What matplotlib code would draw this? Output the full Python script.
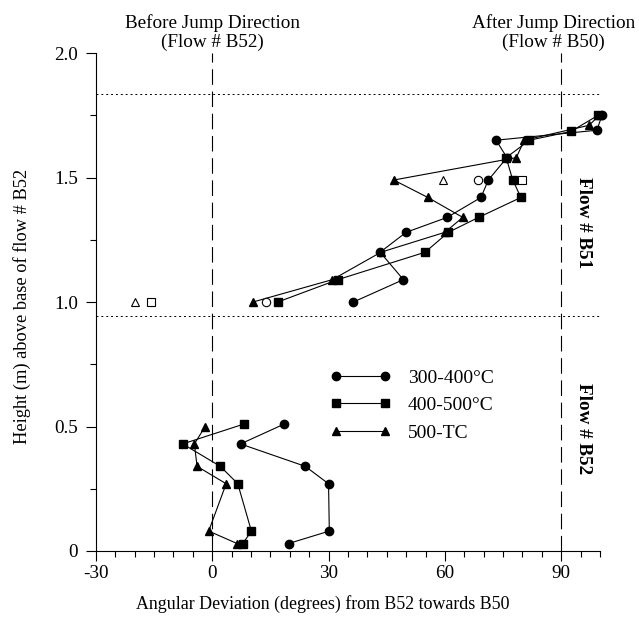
import numpy as np
import matplotlib
matplotlib.use('Agg')
import matplotlib.pyplot as plt
from matplotlib.ticker import MultipleLocator

plt.rcParams['font.family'] = ['Liberation Serif', 'DejaVu Serif']

# upper flow (B51), heights in m, angles in degrees
circ_up_x = [36.4, 49.3, 43.3, 50.0, 60.6, 69.3, 71.2, 76.0, 73.2, 99.2, 100.5]
circ_up_y = [1.00, 1.09, 1.20, 1.28, 1.34, 1.42, 1.49, 1.58, 1.65, 1.69, 1.75]
sq_up_x = [16.9, 32.4, 54.9, 60.9, 68.7, 79.6, 77.5, 75.8, 81.8, 92.5, 99.5]
sq_up_y = [1.00, 1.09, 1.20, 1.28, 1.34, 1.42, 1.49, 1.58, 1.65, 1.685, 1.75]
tri_up_x = [10.5, 31.0, 43.5, 60.0, 64.6, 55.6, 46.8, 78.4, 80.5, 97.2, 99.8]
tri_up_y = [1.00, 1.09, 1.20, 1.28, 1.34, 1.42, 1.49, 1.58, 1.65, 1.71, 1.75]

# lower flow (B52)
circ_lo_x = [19.7, 30.2, 30.0, 24.0, 7.3, 18.6]
circ_lo_y = [0.03, 0.08, 0.27, 0.34, 0.43, 0.51]
sq_lo_x = [7.9, 10.1, 6.6, 2.1, -7.6, 8.2]
sq_lo_y = [0.03, 0.08, 0.27, 0.34, 0.43, 0.51]
tri_lo_x = [6.4, -0.9, 3.6, -3.9, -4.6, -1.8]
tri_lo_y = [0.03, 0.08, 0.27, 0.34, 0.43, 0.50]

# open symbols (no line)
open_circ_x = [68.5, 13.9]
open_circ_y = [1.49, 1.00]
open_sq_x = [79.8, -15.7]
open_sq_y = [1.49, 1.00]
open_tri_x = [59.5, -20.0]
open_tri_y = [1.49, 1.00]

flow_boundaries = [1.835, 0.944]
jump_dirs = [0, 90]

labels = ['300-400°C', '400-500°C', '500-TC']

fs = 13.75

fig = plt.figure(figsize=(6.39, 6.17), dpi=100)
ax = fig.add_axes([0.150, 0.107, 0.789, 0.807])

lw = 0.8
ms = 6
ax.plot(circ_up_x, circ_up_y, 'k-o', lw=lw, ms=ms, clip_on=False, label=labels[0])
ax.plot(sq_up_x, sq_up_y, 'k-s', lw=lw, ms=ms - 0.5, clip_on=False, label=labels[1])
ax.plot(tri_up_x, tri_up_y, 'k-^', lw=lw, ms=ms - 0.5, clip_on=False, label=labels[2])
ax.plot(circ_lo_x, circ_lo_y, 'k-o', lw=lw, ms=ms, clip_on=False)
ax.plot(sq_lo_x, sq_lo_y, 'k-s', lw=lw, ms=ms - 0.5, clip_on=False)
ax.plot(tri_lo_x, tri_lo_y, 'k-^', lw=lw, ms=ms - 0.5, clip_on=False)

ax.plot(open_circ_x, open_circ_y, 'o', mfc='white', mec='k', mew=0.8, ms=ms, ls='none')
ax.plot(open_sq_x, open_sq_y, 's', mfc='white', mec='k', mew=0.8, ms=ms - 0.5, ls='none')
ax.plot(open_tri_x, open_tri_y, '^', mfc='white', mec='k', mew=0.8, ms=ms - 0.5, ls='none')

for yb in flow_boundaries:
    ax.axhline(yb, color='k', lw=0.7, ls=(0, (2, 3)))
for xd in jump_dirs:
    ax.axvline(xd, color='k', lw=0.8, ls=(0, (14, 6)))

ax.set_xlim(-30, 100)
ax.set_ylim(0, 2.0)
ax.xaxis.set_minor_locator(MultipleLocator(5))
ax.yaxis.set_minor_locator(MultipleLocator(0.25))
ax.set_xticks([-30, 0, 30, 60, 90])
ax.set_xticklabels(['-30', '0', '30', '60', '90'])
ax.set_yticks([0, 0.5, 1.0, 1.5, 2.0])
ax.set_yticklabels(['0', '0.5', '1.0', '1.5', '2.0'])
ax.tick_params(which='major', direction='out', length=7, width=0.8, labelsize=fs)
ax.tick_params(which='minor', direction='out', length=4, width=0.8)
ax.tick_params(axis='y', pad=6)
ax.tick_params(axis='x', pad=3)

for side in ['top', 'right']:
    ax.spines[side].set_visible(False)

ax.text(0, 2.01, 'Before Jump Direction\n(Flow # B52)', ha='center', va='bottom',
        fontsize=fs, linespacing=1.1)
ax.text(88, 2.01, 'After Jump Direction\n(Flow # B50)', ha='center', va='bottom',
        fontsize=fs, linespacing=1.1)

ax.text(95.8, 1.32, 'Flow # B51', rotation=-90, ha='center', va='center',
        fontsize=fs, fontweight='bold')
ax.text(95.8, 0.49, 'Flow # B52', rotation=-90, ha='center', va='center',
        fontsize=fs, fontweight='bold')

fig.text(0.035, 0.503, 'Height (m) above base of flow # B52', rotation=90,
         ha='center', va='center', fontsize=13.25)
fig.text(0.505, 0.021, 'Angular Deviation (degrees) from B52 towards B50',
         ha='center', va='center', fontsize=12.9)

ax.legend(loc='upper left', bbox_to_anchor=(0.465, 0.365), frameon=False,
          numpoints=2, handlelength=3.1, handletextpad=0.9, labelspacing=0.5,
          borderpad=0, borderaxespad=0, fontsize=14)

fig.savefig('out.png', dpi=100)
